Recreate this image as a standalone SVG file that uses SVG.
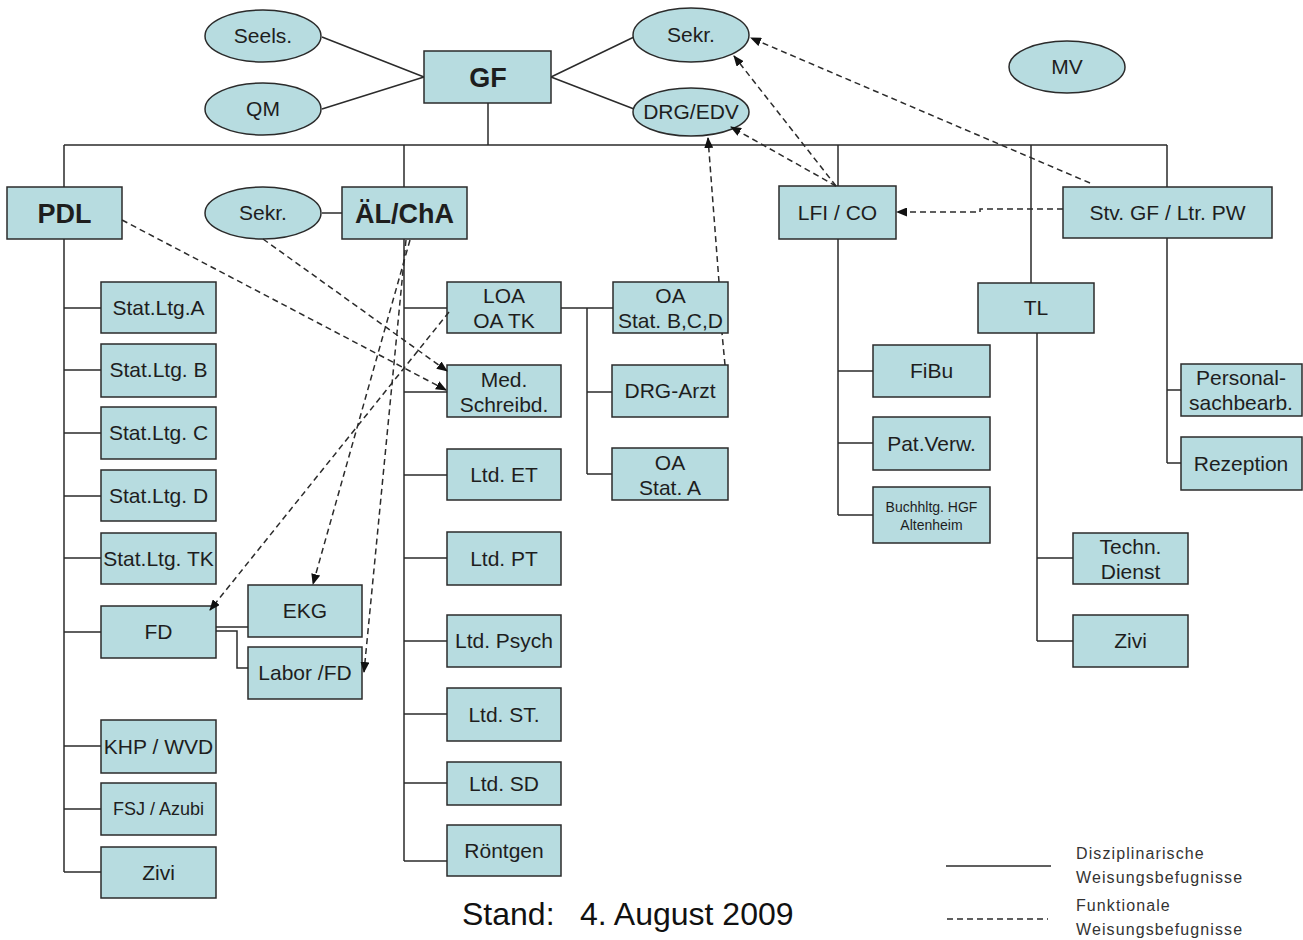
<svg xmlns="http://www.w3.org/2000/svg" width="1303" height="940" viewBox="0 0 1303 940">
<defs>
<marker id="arr" markerWidth="11" markerHeight="9" refX="10" refY="4.5" orient="auto" markerUnits="userSpaceOnUse">
<path d="M0,0 L11,4.5 L0,9 z" fill="#111"/>
</marker>
<style>
.box{fill:#b7dce0;stroke:#2b2b2b;stroke-width:1.5}
.t{font-family:"Liberation Sans",Arial,sans-serif;font-size:21px;fill:#1e1e1e;text-anchor:middle}
.b{font-weight:bold;font-size:27px}
.s{font-size:14px}
.m{font-size:18px}
.ln{fill:none;stroke:#2b2b2b;stroke-width:1.5}
.dl{fill:none;stroke:#2b2b2b;stroke-width:1.5;stroke-dasharray:6 4}
.da{fill:none;stroke:#2b2b2b;stroke-width:1.5;stroke-dasharray:6 4;marker-end:url(#arr)}
.lg{font-family:"Liberation Sans",Arial,sans-serif;font-size:16px;fill:#333;letter-spacing:1.1px}
.ft{font-family:"Liberation Sans",Arial,sans-serif;font-size:32px;fill:#111}
</style>
</defs>
<rect width="1303" height="940" fill="#fff"/>

<g id="connectors-solid">
<path class="ln" d="M322,37 L424,77 M322,109 L424,77 M551,77 L634,37 M551,77 L634,109"/>
<path class="ln" d="M488,103 V145 M64,145 H1167 M64,145 V187 M404,145 V187 M838,145 V186 M1031,145 V283 M1167,145 V187"/>
<path class="ln" d="M322,213 H342"/>
<path class="ln" d="M64,239 V872 M64,308 H101 M64,370 H101 M64,433 H101 M64,496 H101 M64,558 H101 M64,632 H101 M64,746 H101 M64,809 H101 M64,872 H101"/>
<path class="ln" d="M216,627 H248 M216,631 H237 V668 H248"/>
<path class="ln" d="M404,239 V861 M404,308 H447 M404,392 H447 M404,475 H447 M404,558 H447 M404,641 H447 M404,714 H447 M404,783 H447 M404,861 H447"/>
<path class="ln" d="M561,308 H613 M587,308 V474 M587,392 H612 M587,474 H612"/>
<path class="ln" d="M838,239 V515 M838,371 H873 M838,443 H873 M838,515 H873"/>
<path class="ln" d="M1037,333 V641 M1037,558 H1073 M1037,641 H1073"/>
<path class="ln" d="M1167,238 V463 M1167,390 H1181 M1167,463 H1181"/>
</g>

<g id="n-seels"><ellipse class="box" cx="263" cy="36" rx="58" ry="26"/><text class="t" x="263" y="43">Seels.</text></g>
<g id="n-qm"><ellipse class="box" cx="263" cy="109" rx="58" ry="26"/><text class="t" x="263" y="116">QM</text></g>
<g id="n-gf"><rect class="box" x="424" y="51" width="127" height="52"/><text class="t b" x="488" y="87">GF</text></g>
<g id="n-sekr1"><ellipse class="box" cx="691" cy="35" rx="58" ry="27"/><text class="t" x="691" y="42">Sekr.</text></g>
<g id="n-drgedv"><ellipse class="box" cx="691" cy="112" rx="58" ry="24"/><text class="t" x="691" y="119">DRG/EDV</text></g>
<g id="n-mv"><ellipse class="box" cx="1067" cy="67" rx="58" ry="26"/><text class="t" x="1067" y="74">MV</text></g>

<g id="n-pdl"><rect class="box" x="7" y="187" width="115" height="52"/><text class="t b" x="64.5" y="223">PDL</text></g>
<g id="n-sekr2"><ellipse class="box" cx="263" cy="213" rx="58" ry="26"/><text class="t" x="263" y="220">Sekr.</text></g>
<g id="n-alcha"><rect class="box" x="342" y="187" width="125" height="52"/><text class="t b" x="404.5" y="223">ÄL/ChA</text></g>
<g id="n-lfi"><rect class="box" x="779" y="186" width="117" height="53"/><text class="t" x="837.5" y="220">LFI / CO</text></g>
<g id="n-stv"><rect class="box" x="1063" y="187" width="209" height="51"/><text class="t" x="1167.5" y="220">Stv. GF / Ltr. PW</text></g>
<g id="n-tl"><rect class="box" x="978" y="283" width="116" height="50"/><text class="t" x="1036" y="315">TL</text></g>

<g id="n-stata"><rect class="box" x="101" y="282" width="115" height="51"/><text class="t" x="158.5" y="315">Stat.Ltg.A</text></g>
<g id="n-statb"><rect class="box" x="101" y="344" width="115" height="53"/><text class="t" x="158.5" y="377">Stat.Ltg. B</text></g>
<g id="n-statc"><rect class="box" x="101" y="407" width="115" height="52"/><text class="t" x="158.5" y="440">Stat.Ltg. C</text></g>
<g id="n-statd"><rect class="box" x="101" y="470" width="115" height="51"/><text class="t" x="158.5" y="503">Stat.Ltg. D</text></g>
<g id="n-stattk"><rect class="box" x="101" y="533" width="115" height="51"/><text class="t" x="158.5" y="566">Stat.Ltg. TK</text></g>
<g id="n-fd"><rect class="box" x="101" y="606" width="115" height="52"/><text class="t" x="158.5" y="639">FD</text></g>
<g id="n-khp"><rect class="box" x="101" y="720" width="115" height="53"/><text class="t" x="158.5" y="754">KHP / WVD</text></g>
<g id="n-fsj"><rect class="box" x="101" y="783" width="115" height="52"/><text class="t m" x="158.5" y="815">FSJ / Azubi</text></g>
<g id="n-zivi1"><rect class="box" x="101" y="847" width="115" height="51"/><text class="t" x="158.5" y="880">Zivi</text></g>
<g id="n-ekg"><rect class="box" x="248" y="585" width="114" height="52"/><text class="t" x="305" y="618">EKG</text></g>
<g id="n-labor"><rect class="box" x="248" y="647" width="114" height="52"/><text class="t" x="305" y="680">Labor /FD</text></g>

<g id="n-loa"><rect class="box" x="447" y="282" width="114" height="51"/><text class="t" x="504" y="303">LOA</text><text class="t" x="504" y="328">OA TK</text></g>
<g id="n-med"><rect class="box" x="447" y="365" width="114" height="52"/><text class="t" x="504" y="387">Med.</text><text class="t" x="504" y="412">Schreibd.</text></g>
<g id="n-et"><rect class="box" x="447" y="449" width="114" height="51"/><text class="t" x="504" y="482">Ltd. ET</text></g>
<g id="n-pt"><rect class="box" x="447" y="532" width="114" height="53"/><text class="t" x="504" y="566">Ltd. PT</text></g>
<g id="n-psych"><rect class="box" x="447" y="615" width="114" height="52"/><text class="t" x="504" y="648">Ltd. Psych</text></g>
<g id="n-st"><rect class="box" x="447" y="688" width="114" height="53"/><text class="t" x="504" y="722">Ltd. ST.</text></g>
<g id="n-sd"><rect class="box" x="447" y="762" width="114" height="43"/><text class="t" x="504" y="791">Ltd. SD</text></g>
<g id="n-roentgen"><rect class="box" x="447" y="825" width="114" height="51"/><text class="t" x="504" y="858">Röntgen</text></g>

<g id="n-oabcd"><rect class="box" x="613" y="282" width="115" height="51"/><text class="t" x="670.5" y="303">OA</text><text class="t" x="670.5" y="328">Stat. B,C,D</text></g>
<g id="n-drgarzt"><rect class="box" x="612" y="365" width="116" height="52"/><text class="t" x="670" y="398">DRG-Arzt</text></g>
<g id="n-oaa"><rect class="box" x="612" y="448" width="116" height="52"/><text class="t" x="670" y="470">OA</text><text class="t" x="670" y="495">Stat. A</text></g>

<g id="n-fibu"><rect class="box" x="873" y="345" width="117" height="52"/><text class="t" x="931.5" y="378">FiBu</text></g>
<g id="n-patverw"><rect class="box" x="873" y="417" width="117" height="53"/><text class="t" x="931.5" y="451">Pat.Verw.</text></g>
<g id="n-buch"><rect class="box" x="873" y="487" width="117" height="56"/><text class="t s" x="931.5" y="512">Buchhltg. HGF</text><text class="t s" x="931.5" y="530">Altenheim</text></g>

<g id="n-techn"><rect class="box" x="1073" y="533" width="115" height="51"/><text class="t" x="1130.5" y="554">Techn.</text><text class="t" x="1130.5" y="579">Dienst</text></g>
<g id="n-zivi2"><rect class="box" x="1073" y="615" width="115" height="52"/><text class="t" x="1130.5" y="648">Zivi</text></g>

<g id="n-personal"><rect class="box" x="1181" y="364" width="121" height="52"/><text class="t" x="1241" y="385">Personal-</text><text class="t" x="1241" y="410">sachbearb.</text></g>
<g id="n-rezeption"><rect class="box" x="1181" y="437" width="121" height="53"/><text class="t" x="1241" y="471">Rezeption</text></g>

<g id="connectors-dashed">
<path class="da" d="M1090,183 L751,38"/>
<path class="da" d="M836,186 L734,56"/>
<path class="da" d="M836,186 L731,127"/>
<path class="dl" d="M725,365 L722,333"/>
<path class="da" d="M719,282 L708,138"/>
<path class="da" d="M1063,209 H980 V212 H897"/>
<path class="da" d="M122,220 L446,390"/>
<path class="da" d="M263,239 L447,371"/>
<path class="da" d="M410,240 L313,584"/>
<path class="da" d="M406,240 L364,672"/>
<path class="da" d="M449,312 L210,610"/>
</g>

<g id="footer">
<text class="ft" x="462" y="925">Stand:</text>
<text class="ft" x="580" y="925">4. August 2009</text>
</g>

<g id="legend">
<path class="ln" d="M946,866 H1051"/>
<path class="dl" d="M947,919 H1048"/>
<text class="lg" x="1076" y="859">Disziplinarische</text>
<text class="lg" x="1076" y="883">Weisungsbefugnisse</text>
<text class="lg" x="1076" y="911">Funktionale</text>
<text class="lg" x="1076" y="935">Weisungsbefugnisse</text>
</g>
</svg>
